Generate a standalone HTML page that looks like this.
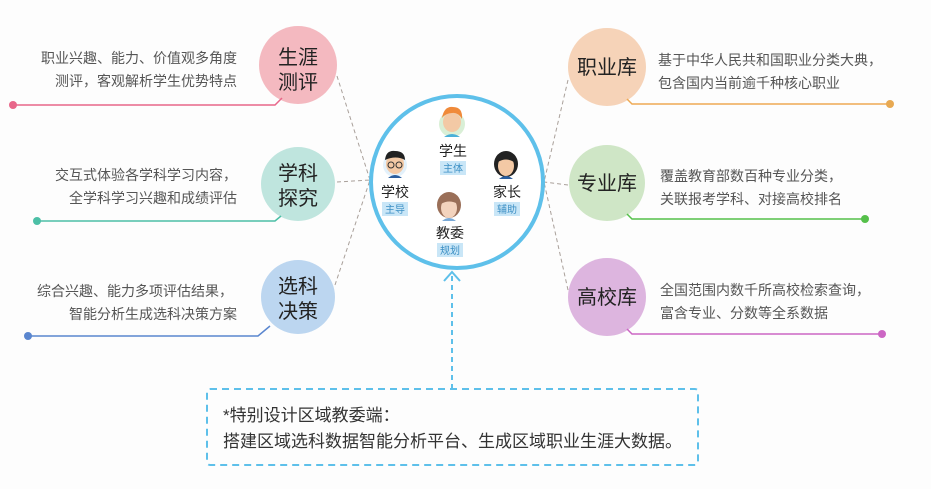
<!DOCTYPE html>
<html><head><meta charset="utf-8"><style>
html,body{margin:0;padding:0;background:#fff;}
svg{display:block;font-family:"Liberation Sans","Noto Sans CJK SC",sans-serif;}
</style></head><body>
<svg width="931" height="489" viewBox="0 0 931 489" xmlns="http://www.w3.org/2000/svg">
<rect width="931" height="489" fill="#fdfdfd"/>
<g stroke="#a9a09a" stroke-width="1" stroke-dasharray="4,3" fill="none">
<path d="M337 76 L370 180"/>
<path d="M337 182 L370 180"/>
<path d="M335 285 L370 180"/>
<path d="M568 80 L544 182"/>
<path d="M568 185 L544 182"/>
<path d="M568 290 L544 182"/>
</g>
<circle cx="298" cy="65" r="39" fill="#f4b9c0"/>
<circle cx="298" cy="184" r="37" fill="#bfe5de"/>
<circle cx="298" cy="297" r="37" fill="#bcd6f0"/>
<g font-size="20" fill="#222" text-anchor="middle">
<text x="298" y="64">生涯</text><text x="298" y="89">测评</text>
<text x="298" y="180">学科</text><text x="298" y="205">探究</text>
<text x="298" y="293">选科</text><text x="298" y="318">决策</text>
</g>
<g fill="none" stroke-width="1.5">
<path d="M13 105 L275 105 L282 98" stroke="#e8678a"/>
<path d="M37 221 L275 221 L281 216" stroke="#4cbfa6"/>
<path d="M28 336 L258 336 L270 326" stroke="#5a86cf"/>
</g>
<circle cx="13" cy="105" r="4" fill="#e8678a"/>
<circle cx="37" cy="221" r="4" fill="#4cbfa6"/>
<circle cx="28" cy="336" r="4" fill="#5a86cf"/>
<g font-size="14" fill="#555" text-anchor="end">
<text x="237" y="63">职业兴趣、能力、价值观多角度</text>
<text x="237" y="86">测评，客观解析学生优势特点</text>
<text x="237" y="180">交互式体验各学科学习内容，</text>
<text x="237" y="203">全学科学习兴趣和成绩评估</text>
<text x="233" y="296">综合兴趣、能力多项评估结果，</text>
<text x="237" y="319">智能分析生成选科决策方案</text>
</g>
<circle cx="607" cy="67" r="39" fill="#f6d3b8"/>
<circle cx="607" cy="183" r="38" fill="#cfe6c6"/>
<circle cx="607" cy="297" r="39" fill="#ddb5df"/>
<g font-size="20" fill="#222" text-anchor="middle">
<text x="607" y="74">职业库</text>
<text x="607" y="190">专业库</text>
<text x="607" y="304">高校库</text>
</g>
<g fill="none" stroke-width="1.5">
<path d="M627 99 L632 104 L890 104" stroke="#eeaa55"/>
<path d="M627 214 L632 219 L865 219" stroke="#55c04a"/>
<path d="M627 329 L632 334 L882 334" stroke="#cc66c4"/>
</g>
<circle cx="890" cy="104" r="4" fill="#e8a952"/>
<circle cx="865" cy="219" r="4" fill="#55c04a"/>
<circle cx="882" cy="334" r="4" fill="#cc66c4"/>
<g font-size="14" fill="#555">
<text x="658" y="65">基于中华人民共和国职业分类大典，</text>
<text x="658" y="88">包含国内当前逾千种核心职业</text>
<text x="660" y="181">覆盖教育部数百种专业分类，</text>
<text x="660" y="204">关联报考学科、对接高校排名</text>
<text x="660" y="295">全国范围内数千所高校检索查询，</text>
<text x="660" y="318">富含专业、分数等全系数据</text>
</g>
<circle cx="457" cy="182" r="86" fill="#fff" stroke="#5ec0ea" stroke-width="4"/>
<g>
<circle cx="452" cy="124" r="13" fill="#d9efd6"/>
<ellipse cx="452" cy="122" rx="9" ry="10" fill="#f3c9a5"/>
<path d="M442 118 Q444 106 453 107 Q463 107 462 119 Q458 112 452 113 Q446 113 442 118Z" fill="#f08a3a"/>
<path d="M444 137 Q452 131 460 137Z" fill="#4ab0d8"/>
</g>
<g>
<circle cx="395" cy="165" r="12" fill="#e3f1fb"/>
<ellipse cx="395" cy="164" rx="9" ry="10" fill="#f3c9a5"/>
<path d="M385 160 Q386 150 395 151 Q405 151 405 160 Q396 155 385 160Z" fill="#222"/>
<circle cx="391" cy="165" r="3" fill="none" stroke="#333"/><circle cx="399" cy="165" r="3" fill="none" stroke="#333"/>
<path d="M388 178 Q395 172 402 178Z" fill="#2b5e9e"/>
</g>
<g>
<ellipse cx="506" cy="164" rx="12" ry="13" fill="#222"/>
<ellipse cx="506" cy="166" rx="8" ry="10" fill="#f3c9a5"/>
<path d="M498 162 Q500 153 506 154 Q513 154 514 162 Q506 157 498 162Z" fill="#222"/>
<path d="M499 179 Q506 173 513 179Z" fill="#2b5e9e"/>
</g>
<g>
<ellipse cx="449" cy="205" rx="12" ry="13" fill="#9a6f58"/>
<ellipse cx="449" cy="208" rx="8" ry="10" fill="#f3d3bd"/>
<path d="M441 204 Q443 196 450 196 Q457 196 458 204 Q449 199 441 204Z" fill="#9a6f58"/>
<path d="M442 221 Q449 215 456 221Z" fill="#7aa9d6"/>
</g>
<g font-size="14" fill="#222" text-anchor="middle">
<text x="453" y="156">学生</text>
<text x="395" y="197">学校</text>
<text x="507" y="197">家长</text>
<text x="450" y="238">教委</text>
</g>
<g fill="#c9e6f7">
<rect x="440" y="161" width="26" height="14"/>
<rect x="382" y="202" width="26" height="14"/>
<rect x="494" y="202" width="26" height="14"/>
<rect x="437" y="243" width="26" height="14"/>
</g>
<g font-size="10" fill="#3c8fc4" text-anchor="middle">
<text x="453" y="172">主体</text>
<text x="395" y="213">主导</text>
<text x="507" y="213">辅助</text>
<text x="450" y="254">规划</text>
</g>
<g stroke="#5ec0ea" stroke-width="2" fill="none">
<path d="M452 389 L452 274" stroke-dasharray="5,4"/>
<path d="M444 281 L452 272 L460 281"/>
</g>
<rect x="207" y="389" width="491" height="76" rx="3" fill="none" stroke="#5ec0ea" stroke-width="2" stroke-dasharray="7,5"/>
<g font-size="17" fill="#333">
<text x="223" y="421">*特别设计区域教委端：</text>
<text x="223" y="447">搭建区域选科数据智能分析平台、生成区域职业生涯大数据。</text>
</g>
</svg>
</body></html>
